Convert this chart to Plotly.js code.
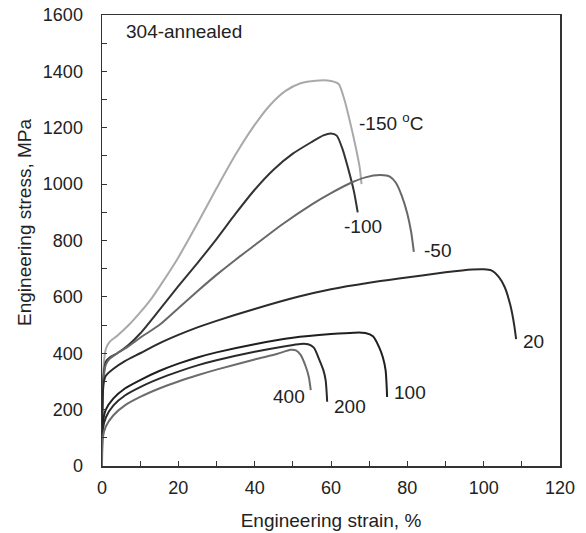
<!DOCTYPE html>
<html>
<head>
<meta charset="utf-8">
<script src="https://cdn.plot.ly/plotly-3.0.1.min.js"></script>
<style>html,body{margin:0;padding:0;background:#fff;}#chart{width:586px;height:533px;}</style>
</head>
<body>
<div id="chart"></div>
<script>
// Strain (%) and engineering stress (MPa)
const strainM150 = [0,0.3,1,2,4,7,10,13,16,20,25,30,35,40,44,48,52,56,60,62,63.5,65,66.5,67.5,68];
const stressM150 = [0,330,415,440,462,500,545,595,655,740,860,985,1105,1210,1280,1330,1358,1367,1366,1355,1300,1220,1130,1060,1000];

const strainM100 = [0,0.3,1,2,4,7,10,15,20,25,30,35,40,45,50,55,58,60,61.5,63,64.5,66,67];
const stressM100 = [0,300,370,385,400,430,470,553,638,720,805,895,980,1052,1108,1150,1173,1180,1172,1125,1055,975,900];

const strainM50 = [0,0.3,1,2,4,7,10,15,20,25,30,35,40,47,55,60,65,69,73,75.5,77,78.5,80,81,81.7];
const stressM50 = [0,290,360,380,400,425,455,500,560,620,678,732,783,855,928,968,1003,1024,1032,1026,1005,960,895,830,760];

const strain20 = [0,0.1,0.5,1,3,6,10,15,20,25,30,40,51.6,60,70,77.8,90,97,100,102,104,105.5,107,108,108.5];
const stress20 = [0,220,300,320,345,372,400,435,465,492,515,557,601,627,650,665,687,697,698,694,670,635,570,500,450];

const strain100 = [0,0.2,1,3,6,10,15,20,25,30,40,50,60,66,69,71,72.6,73.6,74.3,74.7];
const stress100 = [0,150,200,240,275,305,337,363,385,403,432,455,468,473,472,460,422,385,340,245];

const strain200 = [0,0.2,1,3,6,10,15,20,25,30,40,48,52,54,55.5,57,58,58.6,59];
const stress200 = [0,130,172,215,250,280,310,335,357,375,405,425,433,432,420,375,340,304,228];

const strain400 = [0,0.2,1,3,6,10,15,20,25,30,40,46,49.4,50.8,52,53.4,54.2,54.7];
const stress400 = [0,100,140,180,215,245,275,300,322,342,378,398,412,410,395,352,315,269];

const seriesNames = ['-150','-100','-50','20','100','200','400'];
const seriesColors = ['#a9a9a9','#333333','#686868','#2b2b2b','#1f1f1f','#2a2a2a','#6c6c6c'];
const strains = [strainM150,strainM100,strainM50,strain20,strain100,strain200,strain400];
const stresses = [stressM150,stressM100,stressM50,stress20,stress100,stress200,stress400];

// curve labels: text, x (strain), y (stress)
const labelTexts = ['-150 <sup>o</sup>C','-100','-50','20','100','200','400','304-annealed'];
const labelX = [66.8,62.9,83.8,109.7,75.9,60.3,44.2,5.8];
const labelY = [1219,850,765,440,259,212,245,1543];

const yTitle = 'Engineering stress, MPa';
const xTitle = 'Engineering strain, %';

const FONT = '"Liberation Sans", Arial, Helvetica, sans-serif';
const traces = seriesNames.map((n,i)=>({
  type:'scatter', mode:'lines', name:n,
  x: strains[i], y: stresses[i],
  line:{color:seriesColors[i], width:2, shape:'spline', smoothing:0.7},
  hoverinfo:'skip'
}));

const annotations = labelTexts.map((t,i)=>({
  text:t, x:labelX[i], y:labelY[i], xref:'x', yref:'y',
  xanchor:'left', yanchor:'middle', showarrow:false,
  font:{family:FONT, size:19, color:'#222'}
}));
annotations.push({
  text:yTitle, xref:'paper', yref:'paper', x:-0.168, y:0.539,
  xanchor:'center', yanchor:'middle', textangle:-90, showarrow:false,
  font:{family:FONT, size:19, color:'#222'}
});

const axisCommon = {
  showgrid:false, zeroline:false, showline:true, mirror:true,
  linecolor:'#333', linewidth:1.5,
  ticks:'inside', ticklen:5, tickwidth:1, tickcolor:'#333',
  tickfont:{family:FONT, size:18, color:'#222'},
  automargin:false
};

const layout = {
  width:586, height:533,
  margin:{l:102, r:26, t:15, b:67},
  paper_bgcolor:'#fff', plot_bgcolor:'#fff',
  showlegend:false,
  font:{family:FONT, color:'#222'},
  xaxis: Object.assign({}, axisCommon, {
    range:[0,120], dtick:20, tick0:0, ticklabelstandoff:5,
    minor:{dtick:10, ticks:'inside', ticklen:5, tickcolor:'#333'},
    title:{text:xTitle, font:{family:FONT, size:19, color:'#222'}, standoff:16}
  }),
  yaxis: Object.assign({}, axisCommon, {
    range:[0,1600], dtick:200, tick0:0, ticklabelstandoff:14,
    minor:{dtick:100, ticks:'inside', ticklen:5, tickcolor:'#333'}
  }),
  annotations: annotations
};

Plotly.newPlot('chart', traces, layout, {staticPlot:true, displayModeBar:false});
</script>
</body>
</html>
